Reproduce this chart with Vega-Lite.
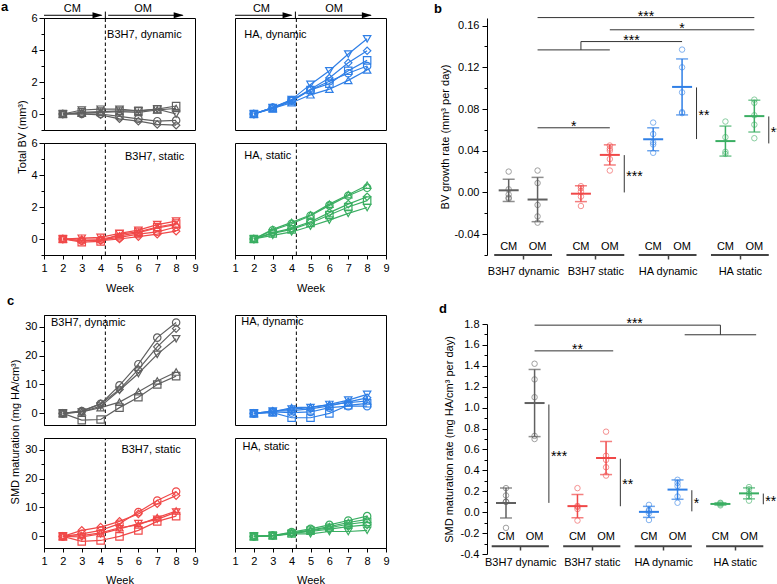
{
"$schema":"https://vega.github.io/schema/vega-lite/v6.json",
"padding":{"left":0,"top":0,"right":0,"bottom":0},
"autosize":{"type":"pad"},
"config":{
 "font":"Liberation Sans",
 "view":{"stroke":null},
 "axis":{"labelFont":"Liberation Sans","labelFontSize":11,"labelColor":"#000","titleFont":"Liberation Sans","titleFontSize":11,"titleFontWeight":"normal","titleColor":"#000","domainColor":"#000","tickColor":"#000","grid":false,"labelFlush":false},
 "text":{"font":"Liberation Sans","fontSize":11,"color":"#000"},
 "title":{"font":"Liberation Sans","fontSize":13,"fontWeight":"bold","anchor":"start","frame":"group","baseline":"alphabetic","offset":7,"color":"#000"}
},
"datasets":{
"bv":[
{"p":"BD","r":1,"w":2,"v":0},{"p":"BD","r":1,"w":3,"v":0},{"p":"BD","r":1,"w":4,"v":0},{"p":"BD","r":1,"w":5,"v":-0.15},{"p":"BD","r":1,"w":6,"v":-0.3},{"p":"BD","r":1,"w":7,"v":-0.45},{"p":"BD","r":1,"w":8,"v":-0.4},
{"p":"BD","r":2,"w":2,"v":0},{"p":"BD","r":2,"w":3,"v":0.1},{"p":"BD","r":2,"w":4,"v":0.15},{"p":"BD","r":2,"w":5,"v":0.2},{"p":"BD","r":2,"w":6,"v":0.2},{"p":"BD","r":2,"w":7,"v":0.3},{"p":"BD","r":2,"w":8,"v":0.5},
{"p":"BD","r":3,"w":2,"v":0},{"p":"BD","r":3,"w":3,"v":0.05},{"p":"BD","r":3,"w":4,"v":0.1},{"p":"BD","r":3,"w":5,"v":0.15},{"p":"BD","r":3,"w":6,"v":0.1},{"p":"BD","r":3,"w":7,"v":0.25},{"p":"BD","r":3,"w":8,"v":0.35},
{"p":"BD","r":4,"w":2,"v":0},{"p":"BD","r":4,"w":3,"v":0.25},{"p":"BD","r":4,"w":4,"v":0.3},{"p":"BD","r":4,"w":5,"v":0.3},{"p":"BD","r":4,"w":6,"v":0.2},{"p":"BD","r":4,"w":7,"v":0.3},{"p":"BD","r":4,"w":8,"v":0},
{"p":"BD","r":5,"w":2,"v":0},{"p":"BD","r":5,"w":3,"v":0},{"p":"BD","r":5,"w":4,"v":-0.05},{"p":"BD","r":5,"w":5,"v":-0.3},{"p":"BD","r":5,"w":6,"v":-0.45},{"p":"BD","r":5,"w":7,"v":-0.65},{"p":"BD","r":5,"w":8,"v":-0.7},
{"p":"HD","r":1,"w":2,"v":0},{"p":"HD","r":1,"w":3,"v":0.4},{"p":"HD","r":1,"w":4,"v":0.85},{"p":"HD","r":1,"w":5,"v":1.5},{"p":"HD","r":1,"w":6,"v":2.05},{"p":"HD","r":1,"w":7,"v":2.55},{"p":"HD","r":1,"w":8,"v":3.0},
{"p":"HD","r":2,"w":2,"v":0},{"p":"HD","r":2,"w":3,"v":0.35},{"p":"HD","r":2,"w":4,"v":0.8},{"p":"HD","r":2,"w":5,"v":1.5},{"p":"HD","r":2,"w":6,"v":1.9},{"p":"HD","r":2,"w":7,"v":2.7},{"p":"HD","r":2,"w":8,"v":3.35},
{"p":"HD","r":3,"w":2,"v":0},{"p":"HD","r":3,"w":3,"v":0.35},{"p":"HD","r":3,"w":4,"v":0.7},{"p":"HD","r":3,"w":5,"v":1.2},{"p":"HD","r":3,"w":6,"v":1.55},{"p":"HD","r":3,"w":7,"v":2.1},{"p":"HD","r":3,"w":8,"v":2.75},
{"p":"HD","r":4,"w":2,"v":0},{"p":"HD","r":4,"w":3,"v":0.4},{"p":"HD","r":4,"w":4,"v":0.9},{"p":"HD","r":4,"w":5,"v":1.85},{"p":"HD","r":4,"w":6,"v":2.7},{"p":"HD","r":4,"w":7,"v":3.75},{"p":"HD","r":4,"w":8,"v":4.7},
{"p":"HD","r":5,"w":2,"v":0},{"p":"HD","r":5,"w":3,"v":0.4},{"p":"HD","r":5,"w":4,"v":0.85},{"p":"HD","r":5,"w":5,"v":1.55},{"p":"HD","r":5,"w":6,"v":2.25},{"p":"HD","r":5,"w":7,"v":3.2},{"p":"HD","r":5,"w":8,"v":3.95},
{"p":"BS","r":1,"w":2,"v":0},{"p":"BS","r":1,"w":3,"v":-0.1},{"p":"BS","r":1,"w":4,"v":-0.05},{"p":"BS","r":1,"w":5,"v":0.1},{"p":"BS","r":1,"w":6,"v":0.3},{"p":"BS","r":1,"w":7,"v":0.45},{"p":"BS","r":1,"w":8,"v":0.75},
{"p":"BS","r":2,"w":2,"v":0},{"p":"BS","r":2,"w":3,"v":-0.2},{"p":"BS","r":2,"w":4,"v":-0.15},{"p":"BS","r":2,"w":5,"v":0.3},{"p":"BS","r":2,"w":6,"v":0.45},{"p":"BS","r":2,"w":7,"v":0.75},{"p":"BS","r":2,"w":8,"v":0.97},
{"p":"BS","r":3,"w":2,"v":0},{"p":"BS","r":3,"w":3,"v":0},{"p":"BS","r":3,"w":4,"v":0},{"p":"BS","r":3,"w":5,"v":0.2},{"p":"BS","r":3,"w":6,"v":0.4},{"p":"BS","r":3,"w":7,"v":0.7},{"p":"BS","r":3,"w":8,"v":0.9},
{"p":"BS","r":4,"w":2,"v":0},{"p":"BS","r":4,"w":3,"v":0.05},{"p":"BS","r":4,"w":4,"v":0.1},{"p":"BS","r":4,"w":5,"v":0.35},{"p":"BS","r":4,"w":6,"v":0.55},{"p":"BS","r":4,"w":7,"v":0.9},{"p":"BS","r":4,"w":8,"v":1.12},
{"p":"BS","r":5,"w":2,"v":0},{"p":"BS","r":5,"w":3,"v":-0.1},{"p":"BS","r":5,"w":4,"v":-0.1},{"p":"BS","r":5,"w":5,"v":0},{"p":"BS","r":5,"w":6,"v":0.15},{"p":"BS","r":5,"w":7,"v":0.3},{"p":"BS","r":5,"w":8,"v":0.49},
{"p":"HS","r":1,"w":2,"v":0},{"p":"HS","r":1,"w":3,"v":0.55},{"p":"HS","r":1,"w":4,"v":0.95},{"p":"HS","r":1,"w":5,"v":1.45},{"p":"HS","r":1,"w":6,"v":2.1},{"p":"HS","r":1,"w":7,"v":2.7},{"p":"HS","r":1,"w":8,"v":3.2},
{"p":"HS","r":2,"w":2,"v":0},{"p":"HS","r":2,"w":3,"v":0.35},{"p":"HS","r":2,"w":4,"v":0.6},{"p":"HS","r":2,"w":5,"v":1.0},{"p":"HS","r":2,"w":6,"v":1.5},{"p":"HS","r":2,"w":7,"v":2.0},{"p":"HS","r":2,"w":8,"v":2.4},
{"p":"HS","r":3,"w":2,"v":0},{"p":"HS","r":3,"w":3,"v":0.6},{"p":"HS","r":3,"w":4,"v":1.04},{"p":"HS","r":3,"w":5,"v":1.5},{"p":"HS","r":3,"w":6,"v":2.18},{"p":"HS","r":3,"w":7,"v":2.77},{"p":"HS","r":3,"w":8,"v":3.36},
{"p":"HS","r":4,"w":2,"v":0},{"p":"HS","r":4,"w":3,"v":0.23},{"p":"HS","r":4,"w":4,"v":0.44},{"p":"HS","r":4,"w":5,"v":0.8},{"p":"HS","r":4,"w":6,"v":1.18},{"p":"HS","r":4,"w":7,"v":1.6},{"p":"HS","r":4,"w":8,"v":1.97},
{"p":"HS","r":5,"w":2,"v":0},{"p":"HS","r":5,"w":3,"v":0.4},{"p":"HS","r":5,"w":4,"v":0.66},{"p":"HS","r":5,"w":5,"v":1.08},{"p":"HS","r":5,"w":6,"v":1.65},{"p":"HS","r":5,"w":7,"v":2.18},{"p":"HS","r":5,"w":8,"v":2.64}
],
"smd":[
{"p":"BD","r":1,"w":2,"v":0},{"p":"BD","r":1,"w":3,"v":0.8},{"p":"BD","r":1,"w":4,"v":3.3},{"p":"BD","r":1,"w":5,"v":9.7},{"p":"BD","r":1,"w":6,"v":17},{"p":"BD","r":1,"w":7,"v":26.2},{"p":"BD","r":1,"w":8,"v":31.4},
{"p":"BD","r":2,"w":2,"v":0},{"p":"BD","r":2,"w":3,"v":-2.3},{"p":"BD","r":2,"w":4,"v":-2.1},{"p":"BD","r":2,"w":5,"v":2},{"p":"BD","r":2,"w":6,"v":5.6},{"p":"BD","r":2,"w":7,"v":10},{"p":"BD","r":2,"w":8,"v":12.9},
{"p":"BD","r":3,"w":2,"v":0},{"p":"BD","r":3,"w":3,"v":0.5},{"p":"BD","r":3,"w":4,"v":2},{"p":"BD","r":3,"w":5,"v":3.9},{"p":"BD","r":3,"w":6,"v":7.5},{"p":"BD","r":3,"w":7,"v":11.2},{"p":"BD","r":3,"w":8,"v":14.3},
{"p":"BD","r":4,"w":2,"v":0},{"p":"BD","r":4,"w":3,"v":0.5},{"p":"BD","r":4,"w":4,"v":2.5},{"p":"BD","r":4,"w":5,"v":8},{"p":"BD","r":4,"w":6,"v":13.8},{"p":"BD","r":4,"w":7,"v":20.4},{"p":"BD","r":4,"w":8,"v":25.8},
{"p":"BD","r":5,"w":2,"v":0},{"p":"BD","r":5,"w":3,"v":0.8},{"p":"BD","r":5,"w":4,"v":3.3},{"p":"BD","r":5,"w":5,"v":8.3},{"p":"BD","r":5,"w":6,"v":15.2},{"p":"BD","r":5,"w":7,"v":23},{"p":"BD","r":5,"w":8,"v":29.3},
{"p":"HD","r":1,"w":2,"v":0},{"p":"HD","r":1,"w":3,"v":0.5},{"p":"HD","r":1,"w":4,"v":0.3},{"p":"HD","r":1,"w":5,"v":0.5},{"p":"HD","r":1,"w":6,"v":2.0},{"p":"HD","r":1,"w":7,"v":2.5},{"p":"HD","r":1,"w":8,"v":2.5},
{"p":"HD","r":2,"w":2,"v":0},{"p":"HD","r":2,"w":3,"v":0.3},{"p":"HD","r":2,"w":4,"v":-1.5},{"p":"HD","r":2,"w":5,"v":-1.5},{"p":"HD","r":2,"w":6,"v":0},{"p":"HD","r":2,"w":7,"v":2.8},{"p":"HD","r":2,"w":8,"v":3.5},
{"p":"HD","r":3,"w":2,"v":0},{"p":"HD","r":3,"w":3,"v":0.5},{"p":"HD","r":3,"w":4,"v":2.0},{"p":"HD","r":3,"w":5,"v":2.2},{"p":"HD","r":3,"w":6,"v":3.0},{"p":"HD","r":3,"w":7,"v":3.7},{"p":"HD","r":3,"w":8,"v":4.3},
{"p":"HD","r":4,"w":2,"v":0},{"p":"HD","r":4,"w":3,"v":0.8},{"p":"HD","r":4,"w":4,"v":1.5},{"p":"HD","r":4,"w":5,"v":2.0},{"p":"HD","r":4,"w":6,"v":3.1},{"p":"HD","r":4,"w":7,"v":4.6},{"p":"HD","r":4,"w":8,"v":6.6},
{"p":"HD","r":5,"w":2,"v":0},{"p":"HD","r":5,"w":3,"v":0.8},{"p":"HD","r":5,"w":4,"v":1.0},{"p":"HD","r":5,"w":5,"v":1.6},{"p":"HD","r":5,"w":6,"v":2.6},{"p":"HD","r":5,"w":7,"v":4.0},{"p":"HD","r":5,"w":8,"v":5.4},
{"p":"BS","r":1,"w":2,"v":0},{"p":"BS","r":1,"w":3,"v":0.9},{"p":"BS","r":1,"w":4,"v":2.1},{"p":"BS","r":1,"w":5,"v":4.4},{"p":"BS","r":1,"w":6,"v":8.4},{"p":"BS","r":1,"w":7,"v":12.4},{"p":"BS","r":1,"w":8,"v":15.5},
{"p":"BS","r":2,"w":2,"v":0},{"p":"BS","r":2,"w":3,"v":-1.7},{"p":"BS","r":2,"w":4,"v":-1.4},{"p":"BS","r":2,"w":5,"v":0},{"p":"BS","r":2,"w":6,"v":2.1},{"p":"BS","r":2,"w":7,"v":5.2},{"p":"BS","r":2,"w":8,"v":7.0},
{"p":"BS","r":3,"w":2,"v":0},{"p":"BS","r":3,"w":3,"v":0.3},{"p":"BS","r":3,"w":4,"v":1.2},{"p":"BS","r":3,"w":5,"v":3.0},{"p":"BS","r":3,"w":6,"v":4.0},{"p":"BS","r":3,"w":7,"v":6.5},{"p":"BS","r":3,"w":8,"v":8.8},
{"p":"BS","r":4,"w":2,"v":0},{"p":"BS","r":4,"w":3,"v":-0.2},{"p":"BS","r":4,"w":4,"v":0.9},{"p":"BS","r":4,"w":5,"v":2.6},{"p":"BS","r":4,"w":6,"v":4.4},{"p":"BS","r":4,"w":7,"v":5.9},{"p":"BS","r":4,"w":8,"v":8.4},
{"p":"BS","r":5,"w":2,"v":0},{"p":"BS","r":5,"w":3,"v":2.1},{"p":"BS","r":5,"w":4,"v":3.2},{"p":"BS","r":5,"w":5,"v":5.2},{"p":"BS","r":5,"w":6,"v":7.8},{"p":"BS","r":5,"w":7,"v":11.3},{"p":"BS","r":5,"w":8,"v":14.1},
{"p":"HS","r":1,"w":2,"v":0},{"p":"HS","r":1,"w":3,"v":0.3},{"p":"HS","r":1,"w":4,"v":1.5},{"p":"HS","r":1,"w":5,"v":2.6},{"p":"HS","r":1,"w":6,"v":4.0},{"p":"HS","r":1,"w":7,"v":5.5},{"p":"HS","r":1,"w":8,"v":7.0},
{"p":"HS","r":2,"w":2,"v":0},{"p":"HS","r":2,"w":3,"v":0.3},{"p":"HS","r":2,"w":4,"v":1.0},{"p":"HS","r":2,"w":5,"v":2.0},{"p":"HS","r":2,"w":6,"v":3.0},{"p":"HS","r":2,"w":7,"v":4.2},{"p":"HS","r":2,"w":8,"v":5.0},
{"p":"HS","r":3,"w":2,"v":0},{"p":"HS","r":3,"w":3,"v":0.3},{"p":"HS","r":3,"w":4,"v":1.2},{"p":"HS","r":3,"w":5,"v":2.2},{"p":"HS","r":3,"w":6,"v":3.4},{"p":"HS","r":3,"w":7,"v":4.8},{"p":"HS","r":3,"w":8,"v":5.9},
{"p":"HS","r":4,"w":2,"v":0},{"p":"HS","r":4,"w":3,"v":0.2},{"p":"HS","r":4,"w":4,"v":0.9},{"p":"HS","r":4,"w":5,"v":0.9},{"p":"HS","r":4,"w":6,"v":1.7},{"p":"HS","r":4,"w":7,"v":1.7},{"p":"HS","r":4,"w":8,"v":2.1},
{"p":"HS","r":5,"w":2,"v":0},{"p":"HS","r":5,"w":3,"v":0.3},{"p":"HS","r":5,"w":4,"v":1.0},{"p":"HS","r":5,"w":5,"v":1.7},{"p":"HS","r":5,"w":6,"v":2.5},{"p":"HS","r":5,"w":7,"v":3.4},{"p":"HS","r":5,"w":8,"v":4.0}
],
"b_pts":[
{"s":"B3H7 dynamic CM","c":"B3H7 dynamic","v":0.020},{"s":"B3H7 dynamic CM","c":"B3H7 dynamic","v":0.003},{"s":"B3H7 dynamic CM","c":"B3H7 dynamic","v":-0.002},{"s":"B3H7 dynamic CM","c":"B3H7 dynamic","v":-0.005},{"s":"B3H7 dynamic CM","c":"B3H7 dynamic","v":-0.006},
{"s":"B3H7 dynamic OM","c":"B3H7 dynamic","v":0.021},{"s":"B3H7 dynamic OM","c":"B3H7 dynamic","v":0.009},{"s":"B3H7 dynamic OM","c":"B3H7 dynamic","v":-0.012},{"s":"B3H7 dynamic OM","c":"B3H7 dynamic","v":-0.023},{"s":"B3H7 dynamic OM","c":"B3H7 dynamic","v":-0.029},
{"s":"B3H7 static CM","c":"B3H7 static","v":0.006},{"s":"B3H7 static CM","c":"B3H7 static","v":0.004},{"s":"B3H7 static CM","c":"B3H7 static","v":0.001},{"s":"B3H7 static CM","c":"B3H7 static","v":-0.004},{"s":"B3H7 static CM","c":"B3H7 static","v":-0.013},
{"s":"B3H7 static OM","c":"B3H7 static","v":0.045},{"s":"B3H7 static OM","c":"B3H7 static","v":0.042},{"s":"B3H7 static OM","c":"B3H7 static","v":0.040},{"s":"B3H7 static OM","c":"B3H7 static","v":0.032},{"s":"B3H7 static OM","c":"B3H7 static","v":0.021},
{"s":"HA dynamic CM","c":"HA dynamic","v":0.067},{"s":"HA dynamic CM","c":"HA dynamic","v":0.056},{"s":"HA dynamic CM","c":"HA dynamic","v":0.048},{"s":"HA dynamic CM","c":"HA dynamic","v":0.046},{"s":"HA dynamic CM","c":"HA dynamic","v":0.038},
{"s":"HA dynamic OM","c":"HA dynamic","v":0.137},{"s":"HA dynamic OM","c":"HA dynamic","v":0.120},{"s":"HA dynamic OM","c":"HA dynamic","v":0.096},{"s":"HA dynamic OM","c":"HA dynamic","v":0.077},{"s":"HA dynamic OM","c":"HA dynamic","v":0.076},
{"s":"HA static CM","c":"HA static","v":0.068},{"s":"HA static CM","c":"HA static","v":0.053},{"s":"HA static CM","c":"HA static","v":0.039},{"s":"HA static CM","c":"HA static","v":0.037},
{"s":"HA static OM","c":"HA static","v":0.089},{"s":"HA static OM","c":"HA static","v":0.086},{"s":"HA static OM","c":"HA static","v":0.074},{"s":"HA static OM","c":"HA static","v":0.065},{"s":"HA static OM","c":"HA static","v":0.052}
],
"d_pts":[
{"s":"B3H7 dynamic CM","c":"B3H7 dynamic","v":0.23},{"s":"B3H7 dynamic CM","c":"B3H7 dynamic","v":0.16},{"s":"B3H7 dynamic CM","c":"B3H7 dynamic","v":0.10},{"s":"B3H7 dynamic CM","c":"B3H7 dynamic","v":0.10},{"s":"B3H7 dynamic CM","c":"B3H7 dynamic","v":-0.15},
{"s":"B3H7 dynamic OM","c":"B3H7 dynamic","v":1.42},{"s":"B3H7 dynamic OM","c":"B3H7 dynamic","v":1.27},{"s":"B3H7 dynamic OM","c":"B3H7 dynamic","v":1.10},{"s":"B3H7 dynamic OM","c":"B3H7 dynamic","v":0.73},{"s":"B3H7 dynamic OM","c":"B3H7 dynamic","v":0.70},
{"s":"B3H7 static CM","c":"B3H7 static","v":0.23},{"s":"B3H7 static CM","c":"B3H7 static","v":0.06},{"s":"B3H7 static CM","c":"B3H7 static","v":0.05},{"s":"B3H7 static CM","c":"B3H7 static","v":0.03},{"s":"B3H7 static CM","c":"B3H7 static","v":-0.08},
{"s":"B3H7 static OM","c":"B3H7 static","v":0.77},{"s":"B3H7 static OM","c":"B3H7 static","v":0.54},{"s":"B3H7 static OM","c":"B3H7 static","v":0.50},{"s":"B3H7 static OM","c":"B3H7 static","v":0.43},{"s":"B3H7 static OM","c":"B3H7 static","v":0.35},
{"s":"HA dynamic CM","c":"HA dynamic","v":0.07},{"s":"HA dynamic CM","c":"HA dynamic","v":0.02},{"s":"HA dynamic CM","c":"HA dynamic","v":0.01},{"s":"HA dynamic CM","c":"HA dynamic","v":-0.01},{"s":"HA dynamic CM","c":"HA dynamic","v":-0.075},
{"s":"HA dynamic OM","c":"HA dynamic","v":0.31},{"s":"HA dynamic OM","c":"HA dynamic","v":0.28},{"s":"HA dynamic OM","c":"HA dynamic","v":0.25},{"s":"HA dynamic OM","c":"HA dynamic","v":0.15},{"s":"HA dynamic OM","c":"HA dynamic","v":0.09},
{"s":"HA static CM","c":"HA static","v":0.09},{"s":"HA static CM","c":"HA static","v":0.085},{"s":"HA static CM","c":"HA static","v":0.075},{"s":"HA static CM","c":"HA static","v":0.065},
{"s":"HA static OM","c":"HA static","v":0.24},{"s":"HA static OM","c":"HA static","v":0.22},{"s":"HA static OM","c":"HA static","v":0.18},{"s":"HA static OM","c":"HA static","v":0.15},{"s":"HA static OM","c":"HA static","v":0.11}
],
"b_lab":[
{"s":"B3H7 dynamic CM","v":-0.052,"t":"CM"},{"s":"B3H7 dynamic OM","v":-0.052,"t":"OM"},{"s":"B3H7 static CM","v":-0.052,"t":"CM"},{"s":"B3H7 static OM","v":-0.052,"t":"OM"},
{"s":"HA dynamic CM","v":-0.052,"t":"CM"},{"s":"HA dynamic OM","v":-0.052,"t":"OM"},{"s":"HA static CM","v":-0.052,"t":"CM"},{"s":"HA static OM","v":-0.052,"t":"OM"}
],
"d_lab":[
{"s":"B3H7 dynamic CM","v":-0.237,"t":"CM"},{"s":"B3H7 dynamic OM","v":-0.237,"t":"OM"},{"s":"B3H7 static CM","v":-0.237,"t":"CM"},{"s":"B3H7 static OM","v":-0.237,"t":"OM"},
{"s":"HA dynamic CM","v":-0.237,"t":"CM"},{"s":"HA dynamic OM","v":-0.237,"t":"OM"},{"s":"HA static CM","v":-0.237,"t":"CM"},{"s":"HA static OM","v":-0.237,"t":"OM"}
],
"b_grp":[
{"s":"B3H7 dynamic pre","s2":"B3H7 dynamic post","v":-0.06},{"s":"B3H7 static pre","s2":"B3H7 static post","v":-0.06},{"s":"HA dynamic pre","s2":"HA dynamic post","v":-0.06},{"s":"HA static pre","s2":"HA static post","v":-0.06}
],
"d_grp":[
{"s":"B3H7 dynamic pre","s2":"B3H7 dynamic post","v":-0.326},{"s":"B3H7 static pre","s2":"B3H7 static post","v":-0.326},{"s":"HA dynamic pre","s2":"HA dynamic post","v":-0.326},{"s":"HA static pre","s2":"HA static post","v":-0.326}
],
"b_h":[
{"s":"B3H7 dynamic OM","s2":"HA static OM","v":0.1677},
{"s":"B3H7 static OM","s2":"HA static OM","v":0.156},
{"s":"B3H7 dynamic OM","s2":"B3H7 static OM","v":0.1367},
{"s":"B3H7 static CM","s2":"HA dynamic OM","v":0.1447},
{"s":"B3H7 dynamic OM","s2":"B3H7 static OM","v":0.062}
],
"b_v":[
{"s":"B3H7 static CM","v":0.1367,"v2":0.1447},
{"s":"B3H7 static post","v":0.0358,"v2":0.0},
{"s":"HA dynamic post","v":0.1007,"v2":0.0512},
{"s":"HA static post","v":0.0729,"v2":0.047}
],
"b_sh":[
{"s":"HA dynamic pre+","v":0.1677,"t":"***"},
{"s":"HA dynamic OM","v":0.156,"t":"*"},
{"s":"B3H7 static post+","v":0.1447,"t":"***"},
{"s":"B3H7 static pre+","v":0.062,"t":"*"}
],
"b_sv":[
{"s":"B3H7 static post","v":0.018,"t":"***"},
{"s":"HA dynamic post","v":0.076,"t":"**"},
{"s":"HA static post","v":0.06,"t":"**"}
],
"d_h":[
{"s":"B3H7 dynamic OM","s2":"HA static CM","v":1.789},
{"s":"HA dynamic OM+","s2":"HA static OM+","v":1.697},
{"s":"B3H7 dynamic OM","s2":"B3H7 static OM+","v":1.543}
],
"d_v":[
{"s":"HA static CM","v":1.789,"v2":1.697},
{"s":"B3H7 dynamic post","v":1.03,"v2":0.089},
{"s":"B3H7 static post","v":0.511,"v2":0.057},
{"s":"HA dynamic post","v":0.21,"v2":0.008},
{"s":"HA static post","v":0.178,"v2":0.076}
],
"d_sh":[
{"s":"HA dynamic pre","v":1.789,"t":"***"},
{"s":"B3H7 static CM","v":1.543,"t":"**"}
],
"d_sv":[
{"s":"B3H7 dynamic post","v":0.556,"t":"***"},
{"s":"B3H7 static post","v":0.284,"t":"**"},
{"s":"HA dynamic post","v":0.109,"t":"*"},
{"s":"HA static post","v":0.127,"t":"**"}
]
},
"hconcat":[
{"concat":[
   {"width":151,"height":112,"view":{"stroke":"#000","strokeWidth":1},
    "title":{"text":"a","dx":-43,"offset":-10.3},
    "layer":[
     {"encoding":{
       "x":{"field":"w","type":"quantitative","scale":{"domain":[1,9],"nice":false,"zero":false},"axis":null},
       "y":{"field":"v","type":"quantitative","scale":{"domain":[-1,6],"nice":false,"zero":false},"axis":{"orient":"left","values":[0,2,4,6],"tickSize":5,"labelPadding":2,"title":"Total BV (mm³)","titleAngle":270,"titleAlign":"center","titleBaseline":"middle","titleX":-22,"titleY":118.5}}},
      "layer":[
       {"data":{"values":[{"w":4.25,"v":-1,"v2":6}]},"mark":{"type":"rule","strokeDash":[3.5,2.5],"color":"#000","strokeWidth":1},"encoding":{"y2":{"field":"v2"}}},
       {"data":{"name":"bv"},"transform":[{"filter":"datum.p==='BD'"}],"mark":{"type":"line","color":"#606060","strokeWidth":1.2},"encoding":{"detail":{"field":"r"}}},
       {"data":{"name":"bv"},"transform":[{"filter":"datum.p==='BD'"}],"mark":{"type":"point","filled":false,"color":"#606060","size":55,"strokeWidth":1.2,"opacity":1},"encoding":{"shape":{"field":"r","type":"nominal","scale":{"domain":[1,2,3,4,5],"range":["circle","square","triangle-up","triangle-down","diamond"]},"legend":null}}},
       {"data":{"values":[{"w":4.34,"v":4.94,"t":"B3H7, dynamic"}]},"mark":{"type":"text","align":"left","baseline":"middle"},"encoding":{"text":{"field":"t"}}},
       {"data":{"values":[{"w":1,"v":6.17,"g":"CM"},{"w":4.05,"v":6.17,"g":"CM"},{"w":4.4,"v":6.17,"g":"OM"},{"w":8.35,"v":6.17,"g":"OM"}]},"mark":{"type":"line","color":"#000","strokeWidth":1},"encoding":{"detail":{"field":"g"}}},
       {"data":{"values":[{"w":4.1,"v":6.17},{"w":8.4,"v":6.17}]},"mark":{"type":"point","shape":"M-1,-0.3L0,0L-1,0.3Z","filled":true,"color":"#000","size":400,"opacity":1},"encoding":{}},
       {"data":{"values":[{"w":4.25,"v":5.97,"v2":6.4}]},"mark":{"type":"rule","color":"#000","strokeWidth":1},"encoding":{"y2":{"field":"v2"}}},
       {"data":{"values":[{"w":2.5,"v":6.55,"t":"CM"},{"w":6.25,"v":6.55,"t":"OM"}]},"mark":{"type":"text","align":"center","baseline":"middle"},"encoding":{"text":{"field":"t"}}}
      ]},
     {"data":{"values":[{"v":0}]},"mark":{"type":"rule","opacity":0},"encoding":{"y":{"field":"v","type":"quantitative","scale":{"domain":[-1,6],"nice":false,"zero":false},"axis":{"orient":"left","values":[-1,1,3,5],"labels":false,"domain":false,"tickSize":3,"title":null}}}}
    ],
    "resolve":{"axis":{"y":"independent"}}},
   {"width":151,"height":112,"view":{"stroke":"#000","strokeWidth":1},
    "encoding":{
      "x":{"field":"w","type":"quantitative","scale":{"domain":[1,9],"nice":false,"zero":false},"axis":null},
      "y":{"field":"v","type":"quantitative","scale":{"domain":[-1,6],"nice":false,"zero":false},"axis":null}},
    "layer":[
     {"data":{"values":[{"w":4.25,"v":-1,"v2":6}]},"mark":{"type":"rule","strokeDash":[3.5,2.5],"color":"#000","strokeWidth":1},"encoding":{"y2":{"field":"v2"}}},
     {"data":{"name":"bv"},"transform":[{"filter":"datum.p==='HD'"}],"mark":{"type":"line","color":"#2f7fe6","strokeWidth":1.2},"encoding":{"detail":{"field":"r"}}},
     {"data":{"name":"bv"},"transform":[{"filter":"datum.p==='HD'"}],"mark":{"type":"point","filled":false,"color":"#2f7fe6","size":55,"strokeWidth":1.2,"opacity":1},"encoding":{"shape":{"field":"r","type":"nominal","scale":{"domain":[1,2,3,4,5],"range":["circle","square","triangle-up","triangle-down","diamond"]},"legend":null}}},
     {"data":{"values":[{"w":1.49,"v":4.92,"t":"HA, dynamic"}]},"mark":{"type":"text","align":"left","baseline":"middle"},"encoding":{"text":{"field":"t"}}},
     {"data":{"values":[{"w":1,"v":6.17,"g":"CM"},{"w":4.0,"v":6.17,"g":"CM"},{"w":4.35,"v":6.17,"g":"OM"},{"w":8.2,"v":6.17,"g":"OM"}]},"mark":{"type":"line","color":"#000","strokeWidth":1},"encoding":{"detail":{"field":"g"}}},
     {"data":{"values":[{"w":4.05,"v":6.17},{"w":8.25,"v":6.17}]},"mark":{"type":"point","shape":"M-1,-0.3L0,0L-1,0.3Z","filled":true,"color":"#000","size":400,"opacity":1},"encoding":{}},
     {"data":{"values":[{"w":4.2,"v":5.97,"v2":6.4}]},"mark":{"type":"rule","color":"#000","strokeWidth":1},"encoding":{"y2":{"field":"v2"}}},
     {"data":{"values":[{"w":2.4,"v":6.55,"t":"CM"},{"w":6.25,"v":6.55,"t":"OM"}]},"mark":{"type":"text","align":"center","baseline":"middle"},"encoding":{"text":{"field":"t"}}}
    ]},
   {"width":151,"height":112,"view":{"stroke":"#000","strokeWidth":1},
    "layer":[
     {"encoding":{
       "x":{"field":"w","type":"quantitative","scale":{"domain":[1,9],"nice":false,"zero":false},"axis":{"values":[1,2,3,4,5,6,7,8,9],"format":"d","tickSize":4,"labelPadding":3,"title":"Week","titlePadding":9}},
       "y":{"field":"v","type":"quantitative","scale":{"domain":[-1,6],"nice":false,"zero":false},"axis":{"orient":"left","values":[0,2,4,6],"tickSize":5,"labelPadding":2,"title":null}}},
      "layer":[
       {"data":{"values":[{"w":4.25,"v":-1,"v2":6}]},"mark":{"type":"rule","strokeDash":[3.5,2.5],"color":"#000","strokeWidth":1},"encoding":{"y2":{"field":"v2"}}},
       {"data":{"name":"bv"},"transform":[{"filter":"datum.p==='BS'"}],"mark":{"type":"line","color":"#f04848","strokeWidth":1.2},"encoding":{"detail":{"field":"r"}}},
       {"data":{"name":"bv"},"transform":[{"filter":"datum.p==='BS'"}],"mark":{"type":"point","filled":false,"color":"#f04848","size":55,"strokeWidth":1.2,"opacity":1},"encoding":{"shape":{"field":"r","type":"nominal","scale":{"domain":[1,2,3,4,5],"range":["circle","square","triangle-up","triangle-down","diamond"]},"legend":null}}},
       {"data":{"values":[{"w":5.29,"v":5.12,"t":"B3H7, static"}]},"mark":{"type":"text","align":"left","baseline":"middle"},"encoding":{"text":{"field":"t"}}}
      ]},
     {"data":{"values":[{"v":0}]},"mark":{"type":"rule","opacity":0},"encoding":{"y":{"field":"v","type":"quantitative","scale":{"domain":[-1,6],"nice":false,"zero":false},"axis":{"orient":"left","values":[-1,1,3,5],"labels":false,"domain":false,"tickSize":3,"title":null}}}}
    ],
    "resolve":{"axis":{"y":"independent"}}},
   {"width":151,"height":112,"view":{"stroke":"#000","strokeWidth":1},
    "encoding":{
      "x":{"field":"w","type":"quantitative","scale":{"domain":[1,9],"nice":false,"zero":false},"axis":{"values":[1,2,3,4,5,6,7,8,9],"format":"d","tickSize":4,"labelPadding":3,"title":"Week","titlePadding":9}},
      "y":{"field":"v","type":"quantitative","scale":{"domain":[-1,6],"nice":false,"zero":false},"axis":null}},
    "layer":[
     {"data":{"values":[{"w":4.25,"v":-1,"v2":6}]},"mark":{"type":"rule","strokeDash":[3.5,2.5],"color":"#000","strokeWidth":1},"encoding":{"y2":{"field":"v2"}}},
     {"data":{"name":"bv"},"transform":[{"filter":"datum.p==='HS'"}],"mark":{"type":"line","color":"#3aae62","strokeWidth":1.2},"encoding":{"detail":{"field":"r"}}},
     {"data":{"name":"bv"},"transform":[{"filter":"datum.p==='HS'"}],"mark":{"type":"point","filled":false,"color":"#3aae62","size":55,"strokeWidth":1.2,"opacity":1},"encoding":{"shape":{"field":"r","type":"nominal","scale":{"domain":[1,2,3,4,5],"range":["circle","square","triangle-up","triangle-down","diamond"]},"legend":null}}},
     {"data":{"values":[{"w":1.49,"v":5.2,"t":"HA, static"}]},"mark":{"type":"text","align":"left","baseline":"middle"},"encoding":{"text":{"field":"t"}}}
    ]},
   {"width":151,"height":34,"data":{"values":[]},"mark":"point","encoding":{}},
   {"width":151,"height":34,"data":{"values":[]},"mark":"point","encoding":{}},
   {"width":151,"height":110,"view":{"stroke":"#000","strokeWidth":1},
    "title":{"text":"c","dx":-37,"offset":6.5},
    "layer":[
     {"encoding":{
       "x":{"field":"w","type":"quantitative","scale":{"domain":[1,9],"nice":false,"zero":false},"axis":null},
       "y":{"field":"v","type":"quantitative","scale":{"domain":[-4,34],"nice":false,"zero":false},"axis":{"orient":"left","values":[0,10,20,30],"tickSize":5,"labelPadding":2,"title":"SMD maturation (mg HA/cm³)","titleAngle":270,"titleAlign":"center","titleBaseline":"middle","titleX":-29,"titleY":116.5}}},
      "layer":[
       {"data":{"values":[{"w":4.25,"v":-4,"v2":34}]},"mark":{"type":"rule","strokeDash":[3.5,2.5],"color":"#000","strokeWidth":1},"encoding":{"y2":{"field":"v2"}}},
       {"data":{"name":"smd"},"transform":[{"filter":"datum.p==='BD'"}],"mark":{"type":"line","color":"#606060","strokeWidth":1.2},"encoding":{"detail":{"field":"r"}}},
       {"data":{"name":"smd"},"transform":[{"filter":"datum.p==='BD'"}],"mark":{"type":"point","filled":false,"color":"#606060","size":55,"strokeWidth":1.2,"opacity":1},"encoding":{"shape":{"field":"r","type":"nominal","scale":{"domain":[1,2,3,4,5],"range":["circle","square","triangle-up","triangle-down","diamond"]},"legend":null}}},
       {"data":{"values":[{"w":1.37,"v":31.3,"t":"B3H7, dynamic"}]},"mark":{"type":"text","align":"left","baseline":"middle"},"encoding":{"text":{"field":"t"}}}
      ]},
     {"data":{"values":[{"v":0}]},"mark":{"type":"rule","opacity":0},"encoding":{"y":{"field":"v","type":"quantitative","scale":{"domain":[-4,34],"nice":false,"zero":false},"axis":{"orient":"left","values":[5,15,25],"labels":false,"domain":false,"tickSize":3,"title":null}}}}
    ],
    "resolve":{"axis":{"y":"independent"}}},
   {"width":151,"height":110,"view":{"stroke":"#000","strokeWidth":1},
    "encoding":{
      "x":{"field":"w","type":"quantitative","scale":{"domain":[1,9],"nice":false,"zero":false},"axis":null},
      "y":{"field":"v","type":"quantitative","scale":{"domain":[-4,34],"nice":false,"zero":false},"axis":null}},
    "layer":[
     {"data":{"values":[{"w":4.25,"v":-4,"v2":34}]},"mark":{"type":"rule","strokeDash":[3.5,2.5],"color":"#000","strokeWidth":1},"encoding":{"y2":{"field":"v2"}}},
     {"data":{"name":"smd"},"transform":[{"filter":"datum.p==='HD'"}],"mark":{"type":"line","color":"#2f7fe6","strokeWidth":1.2},"encoding":{"detail":{"field":"r"}}},
     {"data":{"name":"smd"},"transform":[{"filter":"datum.p==='HD'"}],"mark":{"type":"point","filled":false,"color":"#2f7fe6","size":55,"strokeWidth":1.2,"opacity":1},"encoding":{"shape":{"field":"r","type":"nominal","scale":{"domain":[1,2,3,4,5],"range":["circle","square","triangle-up","triangle-down","diamond"]},"legend":null}}},
     {"data":{"values":[{"w":1.33,"v":31.5,"t":"HA, dynamic"}]},"mark":{"type":"text","align":"left","baseline":"middle"},"encoding":{"text":{"field":"t"}}}
    ]},
   {"width":151,"height":110,"view":{"stroke":"#000","strokeWidth":1},
    "layer":[
     {"encoding":{
       "x":{"field":"w","type":"quantitative","scale":{"domain":[1,9],"nice":false,"zero":false},"axis":{"values":[1,2,3,4,5,6,7,8,9],"format":"d","tickSize":4,"labelPadding":3,"title":"Week","titlePadding":8}},
       "y":{"field":"v","type":"quantitative","scale":{"domain":[-4,34],"nice":false,"zero":false},"axis":{"orient":"left","values":[0,10,20,30],"tickSize":5,"labelPadding":2,"title":null}}},
      "layer":[
       {"data":{"values":[{"w":4.25,"v":-4,"v2":34}]},"mark":{"type":"rule","strokeDash":[3.5,2.5],"color":"#000","strokeWidth":1},"encoding":{"y2":{"field":"v2"}}},
       {"data":{"name":"smd"},"transform":[{"filter":"datum.p==='BS'"}],"mark":{"type":"line","color":"#f04848","strokeWidth":1.2},"encoding":{"detail":{"field":"r"}}},
       {"data":{"name":"smd"},"transform":[{"filter":"datum.p==='BS'"}],"mark":{"type":"point","filled":false,"color":"#f04848","size":55,"strokeWidth":1.2,"opacity":1},"encoding":{"shape":{"field":"r","type":"nominal","scale":{"domain":[1,2,3,4,5],"range":["circle","square","triangle-up","triangle-down","diamond"]},"legend":null}}},
       {"data":{"values":[{"w":5.1,"v":29.8,"t":"B3H7, static"}]},"mark":{"type":"text","align":"left","baseline":"middle"},"encoding":{"text":{"field":"t"}}}
      ]},
     {"data":{"values":[{"v":0}]},"mark":{"type":"rule","opacity":0},"encoding":{"y":{"field":"v","type":"quantitative","scale":{"domain":[-4,34],"nice":false,"zero":false},"axis":{"orient":"left","values":[5,15,25],"labels":false,"domain":false,"tickSize":3,"title":null}}}}
    ],
    "resolve":{"axis":{"y":"independent"}}},
   {"width":151,"height":110,"view":{"stroke":"#000","strokeWidth":1},
    "encoding":{
      "x":{"field":"w","type":"quantitative","scale":{"domain":[1,9],"nice":false,"zero":false},"axis":{"values":[1,2,3,4,5,6,7,8,9],"format":"d","tickSize":4,"labelPadding":3,"title":"Week","titlePadding":8}},
      "y":{"field":"v","type":"quantitative","scale":{"domain":[-4,34],"nice":false,"zero":false},"axis":null}},
    "layer":[
     {"data":{"values":[{"w":4.25,"v":-4,"v2":34}]},"mark":{"type":"rule","strokeDash":[3.5,2.5],"color":"#000","strokeWidth":1},"encoding":{"y2":{"field":"v2"}}},
     {"data":{"name":"smd"},"transform":[{"filter":"datum.p==='HS'"}],"mark":{"type":"line","color":"#3aae62","strokeWidth":1.2},"encoding":{"detail":{"field":"r"}}},
     {"data":{"name":"smd"},"transform":[{"filter":"datum.p==='HS'"}],"mark":{"type":"point","filled":false,"color":"#3aae62","size":55,"strokeWidth":1.2,"opacity":1},"encoding":{"shape":{"field":"r","type":"nominal","scale":{"domain":[1,2,3,4,5],"range":["circle","square","triangle-up","triangle-down","diamond"]},"legend":null}}},
     {"data":{"values":[{"w":1.4,"v":30.9,"t":"HA, static"}]},"mark":{"type":"text","align":"left","baseline":"middle"},"encoding":{"text":{"field":"t"}}}
    ]}
 ],"columns":2,"spacing":{"row":13,"column":40},"bounds":"flush"},
{"vconcat":[
 {"width":289,"height":237,
  "title":{"text":"b","dx":-53,"offset":-6.3},
  "layer":[
   {"encoding":{
     "x":{"field":"s","type":"nominal","scale":{"type":"point","padding":1.22,"domain":["B3H7 dynamic pre","B3H7 dynamic pre+","B3H7 dynamic CM","B3H7 dynamic CM+","B3H7 dynamic mid","B3H7 dynamic mid+","B3H7 dynamic OM","B3H7 dynamic OM+","B3H7 dynamic post","B3H7 dynamic post+","B3H7 static pre","B3H7 static pre+","B3H7 static CM","B3H7 static CM+","B3H7 static mid","B3H7 static mid+","B3H7 static OM","B3H7 static OM+","B3H7 static post","B3H7 static post+","HA dynamic pre","HA dynamic pre+","HA dynamic CM","HA dynamic CM+","HA dynamic mid","HA dynamic mid+","HA dynamic OM","HA dynamic OM+","HA dynamic post","HA dynamic post+","HA static pre","HA static pre+","HA static CM","HA static CM+","HA static mid","HA static mid+","HA static OM","HA static OM+","HA static post"]},
        "axis":{"values":["B3H7 dynamic mid","B3H7 static mid","HA dynamic mid","HA static mid"],"labelExpr":"replace(datum.label,' mid','')","labelAngle":0,"labelOverlap":false,"labelBound":false,"domain":false,"tickSize":4,"tickWidth":1.5,"tickColor":"#444","labelPadding":6,"title":null}},
     "y":{"field":"v","type":"quantitative","scale":{"domain":[-0.06,0.1673],"nice":false,"zero":false},"axis":{"orient":"left","values":[-0.04,0,0.04,0.08,0.12,0.16],"format":".2f","labelExpr":"replace(datum.label,'\u2212','-')","tickSize":5,"labelPadding":3,"title":"BV growth rate (mm³ per day)","titleAngle":270,"titleAlign":"center","titleBaseline":"middle","titleX":-42}}},
    "layer":[
     {"data":{"name":"b_grp"},"mark":{"type":"rule","color":"#444","strokeWidth":2},"encoding":{"x2":{"field":"s2"}}},
     {"data":{"name":"b_lab"},"mark":{"type":"text","align":"center","baseline":"middle"},"encoding":{"text":{"field":"t"}}},
     {"data":{"name":"b_h"},"mark":{"type":"rule","color":"#333","strokeWidth":1},"encoding":{"x2":{"field":"s2"}}},
     {"data":{"name":"b_v"},"mark":{"type":"rule","color":"#333","strokeWidth":1},"encoding":{"y2":{"field":"v2"}}},
     {"data":{"name":"b_sh"},"mark":{"type":"text","fontSize":14,"align":"center","baseline":"alphabetic","dy":3},"encoding":{"text":{"field":"t"}}},
     {"data":{"name":"b_sv"},"mark":{"type":"text","fontSize":14,"align":"left","baseline":"middle","dx":2,"dy":3},"encoding":{"text":{"field":"t"}}},
     {"data":{"name":"b_pts"},"mark":{"type":"point","shape":"circle","filled":false,"size":30,"strokeWidth":1,"opacity":0.6},"encoding":{"color":{"field":"c","type":"nominal","scale":{"domain":["B3H7 dynamic","B3H7 static","HA dynamic","HA static"],"range":["#606060","#f04848","#2f7fe6","#3aae62"]},"legend":null}}},
     {"data":{"name":"b_pts"},"mark":{"type":"errorbar","extent":"stdev","thickness":1.5,"ticks":{"size":12}},"encoding":{"color":{"field":"c","type":"nominal","scale":{"domain":["B3H7 dynamic","B3H7 static","HA dynamic","HA static"],"range":["#606060","#f04848","#2f7fe6","#3aae62"]},"legend":null}}},
     {"data":{"name":"b_pts"},"mark":{"type":"tick","orient":"horizontal","size":20,"thickness":2,"opacity":1},"encoding":{"y":{"aggregate":"mean","field":"v","type":"quantitative","scale":{"domain":[-0.06,0.1673],"nice":false,"zero":false}},"color":{"field":"c","type":"nominal","scale":{"domain":["B3H7 dynamic","B3H7 static","HA dynamic","HA static"],"range":["#606060","#f04848","#2f7fe6","#3aae62"]},"legend":null}}}
    ]},
   {"data":{"values":[{"v":0}]},"mark":{"type":"rule","opacity":0},"encoding":{"y":{"field":"v","type":"quantitative","scale":{"domain":[-0.06,0.1673],"nice":false,"zero":false},"axis":{"orient":"left","values":[-0.06,-0.02,0.02,0.06,0.1,0.14],"labels":false,"domain":false,"tickSize":3,"title":null}}}}
  ],
  "resolve":{"axis":{"y":"independent"}}},
 {"width":281,"height":230,
  "title":{"text":"d","dx":-48,"offset":1},
  "layer":[
   {"encoding":{
     "x":{"field":"s","type":"nominal","scale":{"type":"point","padding":0.657,"domain":["B3H7 dynamic pre","B3H7 dynamic pre+","B3H7 dynamic CM","B3H7 dynamic CM+","B3H7 dynamic mid","B3H7 dynamic mid+","B3H7 dynamic OM","B3H7 dynamic OM+","B3H7 dynamic post","B3H7 dynamic post+","B3H7 static pre","B3H7 static pre+","B3H7 static CM","B3H7 static CM+","B3H7 static mid","B3H7 static mid+","B3H7 static OM","B3H7 static OM+","B3H7 static post","B3H7 static post+","HA dynamic pre","HA dynamic pre+","HA dynamic CM","HA dynamic CM+","HA dynamic mid","HA dynamic mid+","HA dynamic OM","HA dynamic OM+","HA dynamic post","HA dynamic post+","HA static pre","HA static pre+","HA static CM","HA static CM+","HA static mid","HA static mid+","HA static OM","HA static OM+","HA static post"]},
        "axis":{"values":["B3H7 dynamic mid","B3H7 static mid","HA dynamic mid","HA static mid"],"labelExpr":"replace(datum.label,' mid','')","labelAngle":0,"labelOverlap":false,"labelBound":false,"domain":false,"tickSize":4,"tickWidth":1.5,"tickColor":"#444","labelPadding":6,"offset":-8,"title":null}},
     "y":{"field":"v","type":"quantitative","scale":{"domain":[-0.4,1.8],"nice":false,"zero":false},"axis":{"orient":"left","values":[-0.4,-0.2,0,0.2,0.4,0.6,0.8,1.0,1.2,1.4,1.6,1.8],"format":".1f","labelExpr":"replace(datum.label,'\u2212','-')","tickSize":5,"labelPadding":3,"title":"SMD maturation rate (mg HA/cm³ per day)","titleAngle":270,"titleAlign":"center","titleBaseline":"middle","titleX":-38}}},
    "layer":[
     {"data":{"name":"d_grp"},"mark":{"type":"rule","color":"#444","strokeWidth":2},"encoding":{"x2":{"field":"s2"}}},
     {"data":{"name":"d_lab"},"mark":{"type":"text","align":"center","baseline":"middle"},"encoding":{"text":{"field":"t"}}},
     {"data":{"name":"d_h"},"mark":{"type":"rule","color":"#333","strokeWidth":1},"encoding":{"x2":{"field":"s2"}}},
     {"data":{"name":"d_v"},"mark":{"type":"rule","color":"#333","strokeWidth":1},"encoding":{"y2":{"field":"v2"}}},
     {"data":{"name":"d_sh"},"mark":{"type":"text","fontSize":14,"align":"center","baseline":"alphabetic","dy":3},"encoding":{"text":{"field":"t"}}},
     {"data":{"name":"d_sv"},"mark":{"type":"text","fontSize":14,"align":"left","baseline":"middle","dx":2,"dy":3},"encoding":{"text":{"field":"t"}}},
     {"data":{"name":"d_pts"},"mark":{"type":"point","shape":"circle","filled":false,"size":30,"strokeWidth":1,"opacity":0.6},"encoding":{"color":{"field":"c","type":"nominal","scale":{"domain":["B3H7 dynamic","B3H7 static","HA dynamic","HA static"],"range":["#606060","#f04848","#2f7fe6","#3aae62"]},"legend":null}}},
     {"data":{"name":"d_pts"},"mark":{"type":"errorbar","extent":"stdev","thickness":1.5,"ticks":{"size":12}},"encoding":{"color":{"field":"c","type":"nominal","scale":{"domain":["B3H7 dynamic","B3H7 static","HA dynamic","HA static"],"range":["#606060","#f04848","#2f7fe6","#3aae62"]},"legend":null}}},
     {"data":{"name":"d_pts"},"mark":{"type":"tick","orient":"horizontal","size":20,"thickness":2,"opacity":1},"encoding":{"y":{"aggregate":"mean","field":"v","type":"quantitative","scale":{"domain":[-0.4,1.8],"nice":false,"zero":false}},"color":{"field":"c","type":"nominal","scale":{"domain":["B3H7 dynamic","B3H7 static","HA dynamic","HA static"],"range":["#606060","#f04848","#2f7fe6","#3aae62"]},"legend":null}}}
    ]},
   {"data":{"values":[{"v":0}]},"mark":{"type":"rule","opacity":0},"encoding":{"y":{"field":"v","type":"quantitative","scale":{"domain":[-0.4,1.8],"nice":false,"zero":false},"axis":{"orient":"left","values":[-0.3,-0.1,0.1,0.3,0.5,0.7,0.9,1.1,1.3,1.5,1.7],"labels":false,"domain":false,"tickSize":3,"title":null}}}}
  ],
  "resolve":{"axis":{"y":"independent"}}}
],"spacing":69,"bounds":"flush"}
],
"spacing":44
}
